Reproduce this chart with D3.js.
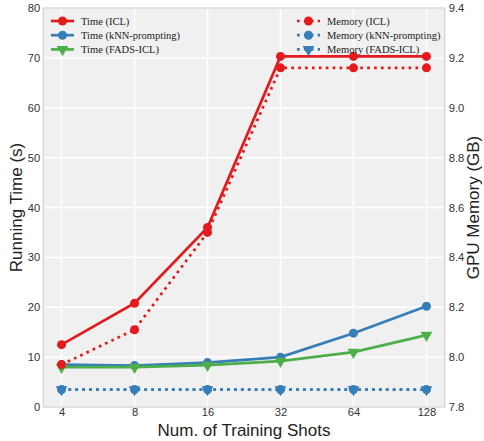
<!DOCTYPE html>
<html><head><meta charset="utf-8">
<script src="https://cdn.jsdelivr.net/npm/d3@7"></script>
<style>body{margin:0;background:#fff}svg{display:block}</style>
</head><body><svg id="c" width="484" height="441"></svg>
<script>
const shots = [4, 8, 16, 32, 64, 128];
const timeICL = [12.5, 20.8, 36.0, 70.3, 70.3, 70.3];
const timeKNN = [8.5, 8.3, 8.9, 10.0, 14.8, 20.2];
const timeFADS = [8.0, 8.0, 8.4, 9.2, 11.0, 14.4];
const memICL = [7.97, 8.11, 8.50, 9.16, 9.16, 9.16];
const memKNN = [7.87, 7.87, 7.87, 7.87, 7.87, 7.87];
const memFADS = [7.87, 7.87, 7.87, 7.87, 7.87, 7.87];
const leftTicks = [0, 10, 20, 30, 40, 50, 60, 70, 80];
const rightTicks = [7.8, 8.0, 8.2, 8.4, 8.6, 8.8, 9.0, 9.2, 9.4];
const red = "#e41a1c", blue = "#377eb8", green = "#4daf4a";

const svg = d3.select("#c");
const L = 43.3, R = 444.7, T = 8, B = 407;
const pad = (Math.log2(128) - Math.log2(4)) * 0.05;
const x = d3.scaleLinear().domain([Math.log2(4) - pad, Math.log2(128) + pad]).range([L, R]);
const yL = d3.scaleLinear().domain([0, 80]).range([B, T]);
const yR = d3.scaleLinear().domain([7.8, 9.4]).range([B, T]);

svg.append("rect").attr("x", L).attr("y", T).attr("width", R - L).attr("height", B - T)
  .attr("fill", "#f0f0f0");
const g = svg.append("g");
g.selectAll(".hg").data(leftTicks).join("line")
  .attr("x1", L).attr("x2", R).attr("y1", d => yL(d)).attr("y2", d => yL(d))
  .attr("stroke", "#fff").attr("stroke-width", 1.5);
g.selectAll(".vg").data(shots).join("line")
  .attr("y1", T).attr("y2", B).attr("x1", d => x(Math.log2(d))).attr("x2", d => x(Math.log2(d)))
  .attr("stroke", "#fff").attr("stroke-width", 1.5);
svg.append("rect").attr("x", L).attr("y", T).attr("width", R - L).attr("height", B - T)
  .attr("fill", "none").attr("stroke", "#d0d0d0").attr("stroke-width", 1.2);

const font = "'Liberation Sans', Arial, sans-serif";
const axL = d3.axisLeft(yL).tickValues(leftTicks).tickSize(0).tickPadding(3);
const axR = d3.axisRight(yR).tickValues(rightTicks).tickSize(0).tickPadding(4).tickFormat(d3.format(".1f"));
const axB = d3.axisBottom(x).tickValues(shots.map(Math.log2)).tickSize(0).tickPadding(1)
  .tickFormat((d, i) => shots[i]);
function styleAx(sel) {
  sel.select(".domain").remove();
  sel.selectAll("text").attr("font-family", font).attr("font-size", 11.2).attr("fill", "#333");
}
svg.append("g").attr("transform", `translate(${L},0)`).call(axL).call(styleAx);
svg.append("g").attr("transform", `translate(${R},0)`).call(axR).call(styleAx);
svg.append("g").attr("transform", `translate(0,${B})`).call(axB).call(styleAx);

svg.append("text").attr("x", (L + R) / 2).attr("y", 436).attr("text-anchor", "middle")
  .attr("font-family", font).attr("font-size", 17).attr("fill", "#222").text("Num. of Training Shots");
svg.append("text").attr("transform", `translate(22,${(T + B) / 2}) rotate(-90)`).attr("text-anchor", "middle")
  .attr("font-family", font).attr("font-size", 17).attr("fill", "#222").text("Running Time (s)");
svg.append("text").attr("transform", `translate(479,${(T + B) / 2}) rotate(-90)`).attr("text-anchor", "middle")
  .attr("font-family", font).attr("font-size", 17).attr("fill", "#222").text("GPU Memory (GB)");

const tri = d3.symbol().type(d3.symbolTriangle).size(60);
function marker(sel, shape, color) {
  if (shape === "o") {
    sel.append("circle").attr("r", 4.5).attr("fill", color);
  } else {
    sel.append("path").attr("d", tri).attr("transform", "rotate(180)").attr("fill", color);
  }
}
function series(vals, yS, color, dotted, shape) {
  const line = d3.line().x((d, i) => x(Math.log2(shots[i]))).y(d => yS(d));
  svg.append("path").datum(vals).attr("d", line).attr("fill", "none")
    .attr("stroke", color).attr("stroke-width", 2.7)
    .attr("stroke-dasharray", dotted ? "2.7,4.2" : null);
  vals.forEach((v, i) => {
    const m = svg.append("g").attr("transform", `translate(${x(Math.log2(shots[i]))},${yS(v)})`);
    marker(m, shape, color);
  });
}
series(timeICL, yL, red, false, "o");
series(timeKNN, yL, blue, false, "o");
series(timeFADS, yL, green, false, "v");
series(memICL, yR, red, true, "o");
series(memKNN, yR, blue, true, "o");
series(memFADS, yR, blue, true, "v");

const serif = "'Liberation Serif', 'Times New Roman', serif";
function legend(items, x0, textX) {
  items.forEach((it, i) => {
    const yy = 21 + i * 14.2;
    svg.append("line").attr("x1", x0).attr("x2", x0 + 23).attr("y1", yy).attr("y2", yy)
      .attr("stroke", it.c).attr("stroke-width", 2.7)
      .attr("stroke-dasharray", it.d ? "2.7,4.2" : null);
    const m = svg.append("g").attr("transform", `translate(${x0 + 11.5},${yy})`);
    marker(m, it.s, it.c);
    svg.append("text").attr("x", textX).attr("y", yy + 4).attr("font-family", serif)
      .attr("font-size", 10.5).attr("fill", "#222").text(it.t);
  });
}
legend([
  { t: "Time (ICL)", c: red, s: "o", d: false },
  { t: "Time (kNN-prompting)", c: blue, s: "o", d: false },
  { t: "Time (FADS-ICL)", c: green, s: "v", d: false }
], 51, 81);
legend([
  { t: "Memory (ICL)", c: red, s: "o", d: true },
  { t: "Memory (kNN-prompting)", c: blue, s: "o", d: true },
  { t: "Memory (FADS-ICL)", c: blue, s: "v", d: true }
], 297, 327);
</script></body></html>
